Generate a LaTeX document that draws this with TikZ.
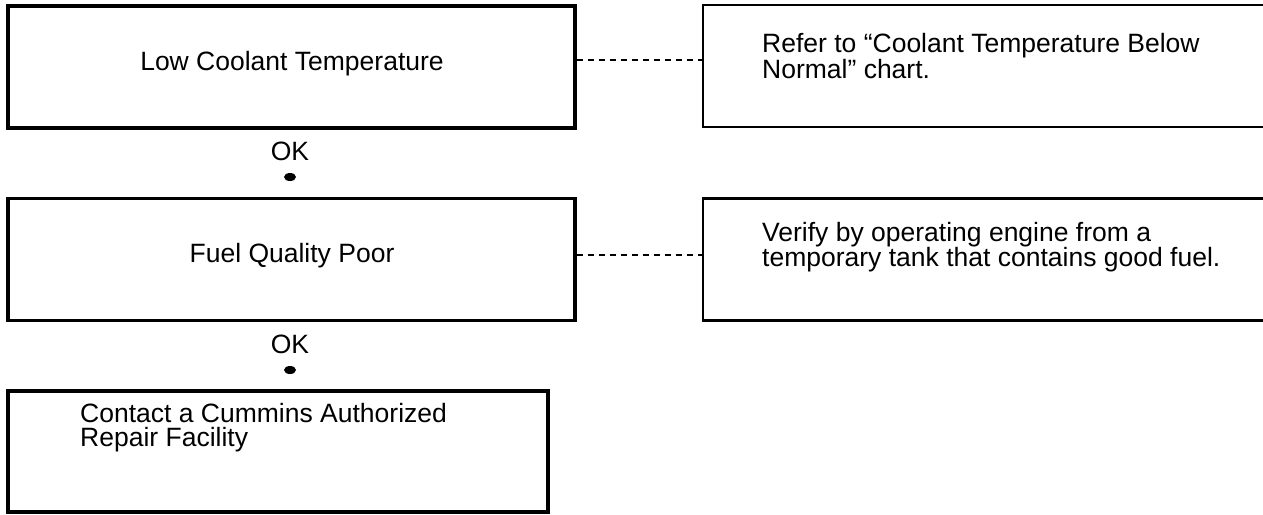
\documentclass[tikz,border=0pt]{standalone}
\usepackage{fontspec}
\setmainfont{Liberation Sans}
\usetikzlibrary{shapes.geometric}
\begin{document}
\begin{tikzpicture}[x=1pt,y=-1pt,
  mainbox/.style={draw, line width=3.2pt, minimum width=567pt, minimum height=122pt, inner sep=0pt},
  sidebox/.style={draw, line width=2.2pt, minimum width=580pt, minimum height=122pt, inner sep=0pt},
  txt/.style={font=\fontsize{26.5}{24}\selectfont, inner sep=0pt, align=left},
  dot/.style={fill=black, ellipse, minimum width=12pt, minimum height=8pt, inner sep=0pt},
  link/.style={dashed, line width=1.8pt, dash pattern=on 6pt off 5pt}]
\useasboundingbox[fill=white] (0,0) rectangle (1263,514);
\node[mainbox] (b1) at (291.5,67) {};
\node[mainbox] (b2) at (291.5,259.5) {};
\node[mainbox, minimum width=540pt, minimum height=121pt] (b3) at (278,451.5) {};
\node[sidebox] (r1) at (993,66) {};
\node[sidebox] (r2) at (993,259.5) {};
\node[txt] (t1) at (292,64) {Low Coolant Temperature};
\node[txt] (t2) at (292,256) {Fuel Quality Poor};
\node[txt, anchor=west] (t3) at (80,428) {Contact a Cummins Authorized\\Repair Facility};
\node[txt, anchor=west] (s1) at (762,56) {Refer to ``Coolant Temperature Below\\Normal'' chart.};
\node[txt, anchor=west] (s2) at (762,247) {Verify by operating engine from a\\temporary tank that contains good fuel.};
\node[txt] (ok1) at (290,151) {OK};
\node[dot] (d1) at (290,177) {};
\node[txt] (ok2) at (290,344) {OK};
\node[dot] (d2) at (290,370) {};
\draw[link] (b1.east |- 0,60) -- (r1.west |- 0,60);
\draw[link] (b2.east |- 0,255) -- (r2.west |- 0,255);
\end{tikzpicture}
\end{document}
